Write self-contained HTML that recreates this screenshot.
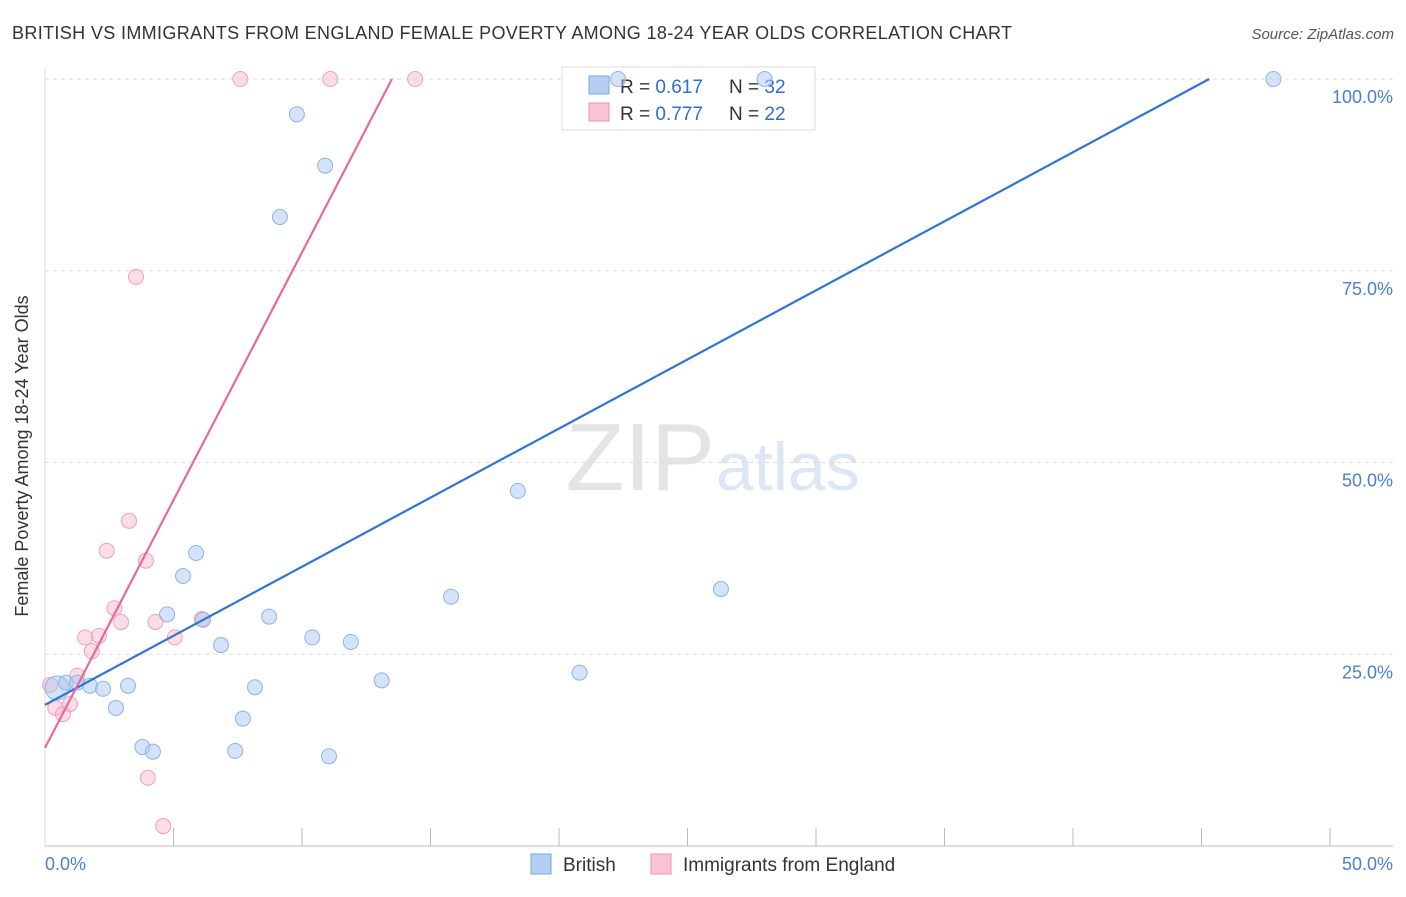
<!DOCTYPE html>
<html><head><meta charset="utf-8"><style>
body{margin:0;background:#fff;font-family:"Liberation Sans",sans-serif;}
svg text{font-family:"Liberation Sans",sans-serif;}
</style></head><body>
<svg width="1406" height="892">
<text x="12" y="39" font-size="18" fill="#333" textLength="1000">BRITISH VS IMMIGRANTS FROM ENGLAND FEMALE POVERTY AMONG 18-24 YEAR OLDS CORRELATION CHART</text>
<text x="1394" y="39" font-size="15" fill="#555" font-style="italic" text-anchor="end">Source: ZipAtlas.com</text>
<text x="715" y="490" font-size="96" fill="#e4e4e4" text-anchor="end" font-family="Liberation Serif">ZIP</text>
<text x="716" y="490" font-size="68" fill="#dce6f4">atlas</text>
<g id="grid"></g>
<line x1="45" y1="846" x2="1393" y2="846" stroke="#bbb"/>
<line x1="45" y1="68" x2="45" y2="846" stroke="#ddd"/>
<text x="28" y="456" font-size="18" fill="#333" text-anchor="middle" transform="rotate(-90 28 456)">Female Poverty Among 18-24 Year Olds</text>
<text x="45" y="870" font-size="18" fill="#4a7fd4">0.0%</text>
<text x="1393" y="870" font-size="18" fill="#4a7fd4" text-anchor="end">50.0%</text>
<rect x="562" y="67" width="253" height="63" fill="#fff" stroke="#ddd"/>
<rect x="589" y="76" width="20" height="18" fill="#b5cff3" stroke="#7aa6e6"/>
<rect x="589" y="103" width="20" height="18" fill="#f9c4d4" stroke="#ee94b0"/>
<text x="620" y="93" font-size="19" fill="#333">R = <tspan fill="#2f6ed3">0.617</tspan></text>
<text x="729" y="93" font-size="19" fill="#333">N = <tspan fill="#2f6ed3">32</tspan></text>
<text x="620" y="120" font-size="19" fill="#333">R = <tspan fill="#2f6ed3">0.777</tspan></text>
<text x="729" y="120" font-size="19" fill="#333">N = <tspan fill="#2f6ed3">22</tspan></text>
<g id="marks"></g>
<rect x="531" y="854" width="20" height="20" fill="#b5cff3" stroke="#7aa6e6"/>
<text x="563" y="871" font-size="19" fill="#333">British</text>
<rect x="651" y="854" width="20" height="20" fill="#f9c4d4" stroke="#ee94b0"/>
<text x="683" y="871" font-size="19" fill="#333">Immigrants from England</text>
</svg>
<script>
const yTicks=[25,50,75,100];
const xTicks=[0,5,10,15,20,25,30,35,40,45,50];
const britishX=[0.47,0.82,1.25,1.75,2.26,2.76,3.23,3.79,4.2,4.75,5.37,5.88,6.15,6.85,7.4,7.7,8.17,8.72,9.14,9.8,10.4,10.9,11.05,11.9,13.1,15.8,18.4,20.8,22.3,26.3,28,47.8];
const britishY=[20.6,21.3,21.3,20.9,20.5,18,20.9,12.9,12.3,30.2,35.2,38.2,29.5,26.2,12.4,16.6,20.7,29.9,82,95.4,27.2,88.7,11.7,26.6,21.6,32.5,46.3,22.6,100,33.5,100,100];
const englandX=[0.2,0.4,0.7,0.97,1.25,1.56,1.82,2.1,2.4,2.7,2.96,3.27,3.54,3.93,4.0,4.3,4.6,5.05,6.1,7.6,11.1,14.4];
const englandY=[21,18,17.2,18.5,22.2,27.2,25.4,27.4,38.5,31,29.2,42.4,74.2,37.2,8.9,29.2,2.6,27.2,29.6,100,100,100];
const britishTrend=[[0,18.4],[45.3,100]];
const englandTrend=[[0,12.8],[13.5,100]];
const X=v=>45+v*25.7, Y=v=>846-v*7.67;
const NS="http://www.w3.org/2000/svg";
const grid=document.getElementById('grid'), marks=document.getElementById('marks');
function mk(t,a,p){const e=document.createElementNS(NS,t);for(const k in a)e.setAttribute(k,a[k]);p.appendChild(e);return e;}
yTicks.forEach(t=>{
 const l=mk('line',{x1:45,x2:1393,y1:Y(t),y2:Y(t),stroke:'#ddd','stroke-dasharray':'4 4'},grid);
 
 
 const tx=mk('text',{x:1393,y:Y(t)+24,'font-size':18,fill:'#4a7fd4','text-anchor':'end'},grid);
 tx.textContent=t.toFixed(1)+'%';
 
 
});
xTicks.forEach(t=>{
 const l=mk('line',{x1:X(t),x2:X(t),y1:828,y2:846,stroke:'#bbb'},grid);
 
 
});
englandX.forEach((x,i)=>{
 const c=mk('circle',{cx:X(x),cy:Y(englandY[i]),r:7.5,fill:'rgba(247,180,200,0.45)',stroke:'#f0a0ba','stroke-width':1},marks);
 
 
});
britishX.forEach((x,i)=>{
 const c=mk('circle',{cx:X(x),cy:Y(britishY[i]),r:i==0?12:7.5,fill:'rgba(170,200,240,0.5)',stroke:'#8fb3e6','stroke-width':1},marks);
 
 
});
const bl=mk('line',{x1:X(britishTrend[0][0]),y1:Y(britishTrend[0][1]),x2:X(britishTrend[1][0]),y2:Y(britishTrend[1][1]),stroke:'#2f74d8','stroke-width':2.2},marks);


const el=mk('line',{x1:X(englandTrend[0][0]),y1:Y(englandTrend[0][1]),x2:X(englandTrend[1][0]),y2:Y(englandTrend[1][1]),stroke:'#e8699a','stroke-width':2.2},marks);


</script>
</body></html>
